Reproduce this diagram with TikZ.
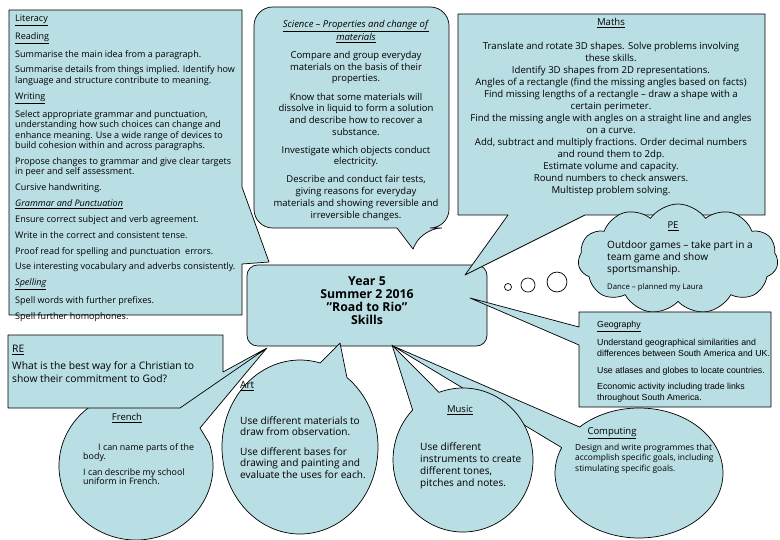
\documentclass[tikz,border=0pt]{standalone}
\usepackage{fontspec}
\setmainfont{Open Sans}
\newfontfamily\geofont{Liberation Sans}
\usetikzlibrary{calc,shapes.symbols}
\definecolor{boxblue}{RGB}{185,222,227}
\tikzset{
  boxln/.style={fill=boxblue, draw=black, line width=0.6pt, line join=round},
  puffln/.style={fill=white, draw=black, line width=0.6pt},
  bodytx/.style={inner sep=0pt, align=left, anchor=north west},
  midtx/.style={inner sep=0pt, align=center, anchor=north},
  headtx/.style={inner sep=0pt, anchor=base},
}
\newcommand{\pgap}{\\[4.5pt]}

\begin{document}
\begin{tikzpicture}[x=0.03cm, y=-0.03cm]
  \fill[white] (0,0) rectangle (780,540);
  \useasboundingbox (0,0) rectangle (780,540);

  % tips of the tails
  \coordinate (littip) at (269,262);
  \coordinate (scitip) at (413,249);
  \coordinate (mathtip) at (465,275);
  \coordinate (geotip) at (470,298);
  \coordinate (comptip) at (393,346);
  \coordinate (mustip) at (392,345);
  \coordinate (arttip) at (340,343);
  \coordinate (frtip) at (266,349);
  \coordinate (retip) at (267,348);

  % literacy
  \draw[boxln] (9,10) -- (242,10) -- (242,187) -- (littip) -- (242,264) -- (242,315) -- (9,315) -- cycle;
  % science
  \draw[boxln] (330,228) [rounded corners=16pt] -- (254,228) -- (254,7) -- (449,7) -- (449,228) -- (423,228)
    [sharp corners] -- (scitip) -- (397,228) -- cycle;
  % centre
  \draw[boxln, rounded corners=9pt] (247,265) rectangle (487,346);
  % maths
  \draw[boxln] (458,14) -- (765,14) -- (765,215) -- (585,215) -- (mathtip) -- (508,215) -- (458,215) -- cycle;
  % PE
  \node[boxln, cloud, cloud puffs=11, cloud puff arc=110, cloud ignores aspect,
        minimum width=6cm, minimum height=3.3cm, inner sep=0pt] (pecloud) at (678,259) {};
  \draw[puffln] (508,287) circle (3pt);
  \draw[puffln] (528,285) circle (6pt);
  \draw[puffln] (557,282) circle (8.5pt);
  % geography
  \draw[boxln] (579,312) -- (771,312) -- (771,407) -- (579,407) -- (579,345) -- (geotip) -- (579,327) -- cycle;
  % computing
  \draw[boxln] ($(639,473)+(225:84 and 65)$) arc[start angle=225, end angle=563, x radius=84, y radius=65] -- (comptip) -- cycle;
  % music
  \draw[boxln] ($(463,460)+(250:70 and 72)$) arc[start angle=250, end angle=584, x radius=70, y radius=72] -- (mustip) -- cycle;
  % art
  \draw[boxln] ($(300,447)+(307:78 and 87)$) arc[start angle=307, end angle=645, x radius=78, y radius=87] -- (arttip) -- cycle;
  % french
  \draw[boxln] ($(136,466)+(342:77 and 74)$) arc[start angle=342, end angle=660, x radius=77, y radius=74] -- (frtip) -- (200,428) -- cycle;
  % RE
  \draw[boxln] (8,335) -- (223,335) -- (223,372) -- (retip) -- (180,408) -- (8,408) -- cycle;

  % texts
  \node[bodytx, font=\fontsize{7.7}{9}\selectfont] (lit) at (15,14.5) {\underline{Literacy}\pgap
    \underline{Reading}\pgap
    Summarise the main idea from a paragraph.\pgap
    Summarise details from things implied. Identify how\\
    language and structure contribute to meaning.\pgap
    \underline{Writing}\pgap
    Select appropriate grammar and punctuation,\\
    understanding how such choices can change and\\
    enhance meaning. Use a wide range of devices to\\
    build cohesion within and across paragraphs.\pgap
    Propose changes to grammar and give clear targets\\
    in peer and self assessment.\pgap
    Cursive handwriting.\pgap
    \underline{\textit{Grammar and Punctuation}}\pgap
    Ensure correct subject and verb agreement.\pgap
    Write in the correct and consistent tense.\pgap
    Proof read for spelling and punctuation\ \ errors.\pgap
    Use interesting vocabulary and adverbs consistently.\pgap
    \underline{\textit{Spelling}}\pgap
    Spell words with further prefixes.\pgap
    Spell further homophones.};

  \node[midtx, font=\fontsize{8.1}{10}\selectfont] (sci) at (356,20) {\underline{\textit{Science – Properties and change of}}\\
    \underline{\textit{materials}}\\[5.4pt]
    Compare and group everyday\\ materials on the basis of their\\ properties.\\[5.4pt]
    Know that some materials will\\ dissolve in liquid to form a solution\\ and describe how to recover a\\ substance.\\[5.4pt]
    Investigate which objects conduct\\ electricity.\\[5.4pt]
    Describe and conduct fair tests,\\ giving reasons for everyday\\ materials and showing reversible and\\ irreversible changes.};

  \node[midtx, font=\fontsize{8.2}{10.2}\selectfont] (maths) at (611,18) {\underline{Maths}\\[10.5pt]
    Translate and rotate 3D shapes. Solve problems involving\\ these skills.\\
    Identify 3D shapes from 2D representations.\\
    Angles of a rectangle (find the missing angles based on facts)\\
    Find missing lengths of a rectangle – draw a shape with a\\ certain perimeter.\\
    Find the missing angle with angles on a straight line and angles\\ on a curve.\\
    Add, subtract and multiply fractions. Order decimal numbers\\ and round them to 2dp.\\
    Estimate volume and capacity.\\
    Round numbers to check answers.\\
    Multistep problem solving.};

  \node[midtx, font=\fontsize{10.5}{11.1}\selectfont\bfseries] (yr5) at (367,276) {Year 5\\ Summer 2 2016\\ "Road to Rio"\\ Skills};

  \node[headtx, font=\fontsize{8.1}{10}\selectfont] (pehead) at (673,228.5) {\underline{PE}};
  \node[bodytx, font=\fontsize{8.6}{10.2}\selectfont] (petext) at (607,240.5) {Outdoor games – take part in a\\ team game and show\\ sportsmanship.};
  \node[bodytx, font=\fontsize{6.6}{8.4}\selectfont] (pedance) at (607,283) {Dance – planned my Laura};

  \node[bodytx, font=\geofont\fontsize{7.5}{8.8}\selectfont] (geo) at (597,321) {\underline{Geography}\\[5.6pt]
    Understand geographical similarities and\\ differences between South America and UK.\\[5.6pt]
    Use atlases and globes to locate countries.\\[5.6pt]
    Economic activity including trade links\\ throughout South America.};

  \node[bodytx, font=\fontsize{8.8}{11.1}\selectfont] (re) at (12,345) {\underline{RE}\\[3.4pt]
    What is the best way for a Christian to\\ show their commitment to God?};

  \node[headtx, font=\fontsize{8.1}{10}\selectfont] (frhead) at (127,420.5) {\underline{French}};
  \node[bodytx, font=\fontsize{7.6}{7.9}\selectfont] (frtext) at (83,443.5) {\hspace*{12.8pt}I can name parts of the\\ body.\\[5.5pt]
    I can describe my school\\ uniform in French.};

  \node[bodytx, font=\fontsize{8.6}{9.8}\selectfont] (arttext) at (240,381) {\underline{Art}\\[20.9pt]
    Use different materials to\\ draw from observation.\\[6.8pt]
    Use different bases for\\ drawing and painting and\\ evaluate the uses for each.};

  \node[headtx, font=\fontsize{8.1}{10}\selectfont] (mushead) at (460,412.5) {\underline{Music}};
  \node[bodytx, font=\fontsize{8.6}{10.2}\selectfont] (mustext) at (420,442.5) {Use different\\ instruments to create\\ different tones,\\ pitches and notes.};

  \node[headtx, font=\fontsize{8.1}{10}\selectfont] (comphead) at (612,434.5) {\underline{Computing}};
  \node[bodytx, font=\fontsize{7.2}{9.2}\selectfont] (comptext) at (575,443.5) {Design and write programmes that\\ accomplish specific goals, including\\ stimulating specific goals.};
\end{tikzpicture}
\end{document}
